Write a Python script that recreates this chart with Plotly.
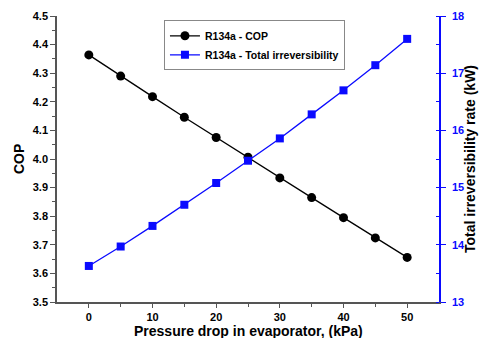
import plotly.graph_objects as go

pressure_drop = [0, 5, 10, 15, 20, 25, 30, 35, 40, 45, 50]
cop = [4.364, 4.290, 4.218, 4.146, 4.075, 4.006, 3.934, 3.865, 3.795, 3.724, 3.656]
irreversibility = [13.63, 13.97, 14.33, 14.70, 15.08, 15.47, 15.86, 16.28, 16.70, 17.14, 17.60]

x_title = "Pressure drop in evaporator, (kPa)"
y_title = "COP"
y2_title = "Total irreversibility rate (kW)"

BLUE = "#0a0aff"
AXIS_GRAY = "#555555"
FONT = "Liberation Sans, Arial, sans-serif"

fig = go.Figure()
fig.add_trace(go.Scatter(
    x=pressure_drop, y=cop, name="R134a - COP", mode="lines+markers",
    line=dict(color="black", width=1.3),
    marker=dict(symbol="circle", size=9, color="black"),
    yaxis="y",
))
fig.add_trace(go.Scatter(
    x=pressure_drop, y=irreversibility, name="R134a - Total irreversibility",
    mode="lines+markers",
    line=dict(color=BLUE, width=1.3),
    marker=dict(symbol="square", size=8, color=BLUE),
    yaxis="y2",
))

tick_font = dict(family=FONT, size=11, color="black", weight="bold")
title_font = dict(family=FONT, size=14, color="black", weight="bold")

fig.update_layout(
    width=479, height=338,
    margin=dict(l=57, r=40, t=16, b=36),
    paper_bgcolor="white", plot_bgcolor="white",
    font=dict(family=FONT),
    showlegend=True,
    legend=dict(
        x=0.28, y=0.985, xanchor="left", yanchor="top",
        bgcolor="white", bordercolor="#888888", borderwidth=1,
        font=dict(family=FONT, size=10.5, color="black", weight="bold"),
        itemwidth=30, tracegroupgap=0,
    ),
    xaxis=dict(
        range=[-5, 55], tickvals=[0, 10, 20, 30, 40, 50],
        ticks="outside", ticklen=4, tickcolor=AXIS_GRAY, ticklabelstandoff=0,
        minor=dict(tickvals=[5, 15, 25, 35, 45], ticks="outside", ticklen=3, tickcolor=AXIS_GRAY),
        showline=True, linecolor=AXIS_GRAY, linewidth=1.5,
        showgrid=False, zeroline=False, tickfont=tick_font, automargin=False,
    ),
    xaxis2=dict(
        range=[-5, 55], overlaying="x", side="top",
        tickvals=[0, 10, 20, 30, 40, 50], showticklabels=False,
        ticks="inside", ticklen=5, tickcolor=AXIS_GRAY,
        minor=dict(tickvals=[5, 15, 25, 35, 45], ticks="inside", ticklen=3, tickcolor=AXIS_GRAY),
        showline=True, linecolor=AXIS_GRAY, linewidth=1.5,
        showgrid=False, zeroline=False, automargin=False,
    ),
    yaxis=dict(
        range=[3.5, 4.5], tickvals=[3.5, 3.6, 3.7, 3.8, 3.9, 4.0, 4.1, 4.2, 4.3, 4.4, 4.5],
        tickformat=".1f",
        ticks="outside", ticklen=5, tickcolor=AXIS_GRAY,
        minor=dict(dtick=0.05, ticks="outside", ticklen=3, tickcolor=AXIS_GRAY),
        showline=True, linecolor=AXIS_GRAY, linewidth=1.5,
        showgrid=False, zeroline=False, tickfont=tick_font, automargin=False,
    ),
    yaxis2=dict(
        range=[13, 18], tickvals=[13, 14, 15, 16, 17, 18],
        overlaying="y", side="right", anchor="x",
        ticks="outside", ticklen=5, tickcolor=BLUE, ticklabelstandoff=4,
        minor=dict(dtick=0.5, ticks="inside", ticklen=3, tickcolor=BLUE),
        showline=True, linecolor=BLUE, linewidth=1.5,
        showgrid=False, zeroline=False, automargin=False,
        tickfont=dict(family=FONT, size=11, color=BLUE, weight="bold"),
    ),
)

# Axis titles placed as paper-anchored annotations
fig.add_annotation(text=x_title, xref="paper", yref="paper", x=0.5, y=0,
                   xanchor="center", yanchor="middle", yshift=-29,
                   showarrow=False, font=title_font)
fig.add_annotation(text=y_title, xref="paper", yref="paper", x=0, y=0.5,
                   xanchor="center", yanchor="middle", xshift=-38, textangle=-90,
                   showarrow=False, font=title_font)
fig.add_annotation(text=y2_title, xref="paper", yref="paper", x=1, y=0.5,
                   xanchor="center", yanchor="middle", xshift=31, textangle=-90,
                   showarrow=False, font=title_font)

fig.write_html("out.html")
